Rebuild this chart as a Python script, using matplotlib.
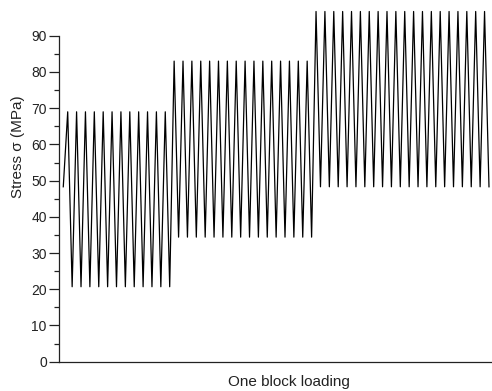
import numpy as np
import matplotlib
matplotlib.use('Agg')
from matplotlib import pyplot as plt
from matplotlib.ticker import FixedLocator

plt.rcParams['font.family'] = ['Liberation Sans', 'DejaVu Sans']

# block loading: (cycles, min stress, max stress) per level
blockCycles = [12, 16, 20]
blockMinMPa = [20.7, 34.4, 48.3]
blockMaxMPa = [69.0, 83.0, 96.7]
startStressMPa = 48.3

# build the turning-point sequence: peak then valley for every cycle
stress = [startStressMPa]
for n, lo, hi in zip(blockCycles, blockMinMPa, blockMaxMPa):
    for _ in range(n):
        stress.append(hi)
        stress.append(lo)
stress = np.array(stress)
steps = np.arange(len(stress))

figure = plt.figure(figsize=(4.92, 3.91), dpi=100)
axis = figure.add_axes([0.1205, 0.0749, 0.8795, 0.8985])

axis.plot(steps, stress, color='black', linewidth=0.9, clip_on=False)

axis.set_xlim(-0.9, len(stress) - 1 + 0.68)
axis.set_ylim(0, 97)

axis.spines['top'].set_visible(False)
axis.spines['right'].set_visible(False)
axis.spines['left'].set_bounds(0, 90)
for s in ('left', 'bottom'):
    axis.spines[s].set_linewidth(0.9)
    axis.spines[s].set_color('#222222')

# ticks only along the drawn part of the axis (0..90)
axis.set_xticks([])
axis.yaxis.set_major_locator(FixedLocator(np.arange(0, 91, 10)))
axis.yaxis.set_minor_locator(FixedLocator(np.arange(5, 90, 10)))
axis.tick_params(axis='y', which='major', length=7, width=0.9, labelsize=10,
                 colors='#222222', pad=2)
axis.tick_params(axis='y', which='minor', length=3.5, width=0.9, colors='#222222')

figure.text(0.036, 0.624, 'Stress σ (MPa)', rotation=90, ha='center', va='center',
            fontsize=11, color='#222222')
figure.text(0.587, 0.023, 'One block loading', ha='center', va='center',
            fontsize=11, color='#222222')

plt.savefig('out.png', dpi=100)
